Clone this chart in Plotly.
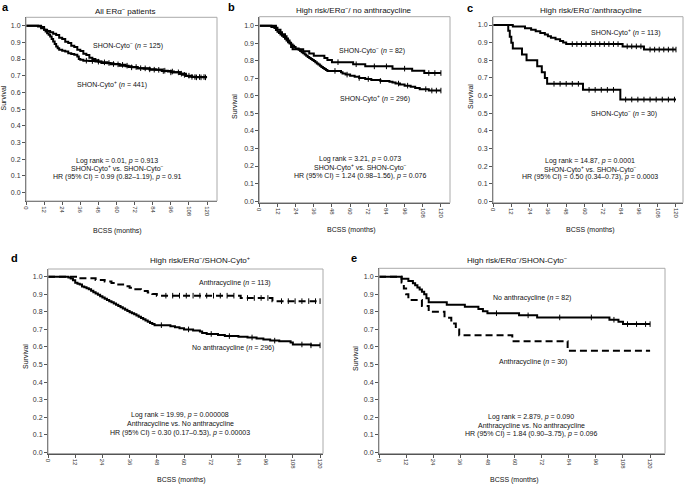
import plotly.graph_objects as go

W, H = 685, 487

# ---------------- data (time in months, survival) ----------------
x_ticks = [0, 12, 24, 36, 48, 60, 72, 84, 96, 108, 120]
y_ticks = [0.0, 0.1, 0.2, 0.3, 0.4, 0.5, 0.6, 0.7, 0.8, 0.9, 1.0]
y_ticktext = ["0.0", "0.1", "0.2", "0.3", "0.4", "0.5", "0.6", "0.7", "0.8", "0.9", "1.0"]

# panel a: all ERa- patients
a_pos = [(0, 1.0), (8, 0.995), (10, 0.985), (12, 0.975), (13, 0.965), (14, 0.955), (15, 0.945),
         (16, 0.935), (17, 0.92), (18, 0.905), (19, 0.89), (20, 0.875), (21, 0.865), (22, 0.855),
         (24, 0.85), (26, 0.845), (28, 0.835), (30, 0.83), (32, 0.825), (34, 0.815), (35, 0.80),
         (36, 0.795), (38, 0.79), (42, 0.788), (46, 0.785), (50, 0.78), (54, 0.775), (58, 0.77),
         (62, 0.765), (66, 0.757), (70, 0.75), (74, 0.745), (78, 0.742), (82, 0.738), (86, 0.735),
         (90, 0.73), (94, 0.725), (98, 0.72), (102, 0.712), (104, 0.705), (106, 0.698), (108, 0.693),
         (112, 0.69), (120, 0.69)]
a_neg = [(0, 1.0), (10, 0.992), (12, 0.976), (14, 0.968), (16, 0.96), (18, 0.952), (20, 0.944),
         (22, 0.928), (24, 0.92), (26, 0.904), (28, 0.896), (30, 0.88), (32, 0.872), (34, 0.856),
         (36, 0.848), (38, 0.832), (40, 0.824), (42, 0.808), (44, 0.80), (46, 0.792), (48, 0.784),
         (50, 0.776), (56, 0.768), (62, 0.76), (68, 0.752), (74, 0.744), (82, 0.736), (90, 0.728),
         (96, 0.72), (102, 0.712), (106, 0.70), (110, 0.692), (120, 0.692)]
a_pos_cens = [40, 44, 52, 58, 64, 70, 76, 82, 88, 92, 97, 101, 105, 110, 113, 116, 119]
a_neg_cens = [48, 55, 61, 67, 73, 79, 85, 91, 96, 103, 108, 112, 115, 118]

# panel b: high risk / no anthracycline
b_pos = [(0, 1.0), (8, 0.993), (10, 0.986), (11, 0.975), (12, 0.965), (13, 0.958), (14, 0.95),
         (15, 0.942), (16, 0.935), (17, 0.925), (18, 0.915), (19, 0.905), (20, 0.898), (21, 0.892),
         (22, 0.885), (23, 0.878), (24, 0.87), (26, 0.863), (27, 0.856), (28, 0.849), (29, 0.842),
         (30, 0.835), (31, 0.828), (32, 0.822), (33, 0.816), (34, 0.81), (35, 0.804), (36, 0.798),
         (37, 0.791), (38, 0.785), (39, 0.778), (40, 0.772), (41, 0.765), (42, 0.759), (43, 0.753),
         (44, 0.747), (45, 0.742), (54, 0.735), (55, 0.728), (57, 0.721), (60, 0.715), (63, 0.709),
         (66, 0.702), (70, 0.696), (74, 0.69), (80, 0.685), (86, 0.68), (88, 0.676), (90, 0.67),
         (93, 0.664), (96, 0.658), (100, 0.652), (103, 0.645), (106, 0.638), (112, 0.63), (120, 0.63)]
b_neg = [(0, 1.0), (11, 0.988), (12, 0.976), (14, 0.963), (15, 0.951), (17, 0.939), (18, 0.927),
         (19, 0.915), (20, 0.902), (21, 0.878), (22, 0.866), (29, 0.854), (33, 0.841), (36, 0.829),
         (43, 0.816), (45, 0.804), (48, 0.792), (62, 0.78), (70, 0.768), (88, 0.755), (101, 0.743),
         (109, 0.73), (120, 0.73)]
b_pos_cens = [50, 58, 66, 72, 80, 92, 98, 110, 114, 117, 120]
b_neg_cens = [52, 64, 76, 84, 96, 112, 116, 120]

# panels c/d: anthracycline, SHON-Cyto+ (n=113); panels c/e: anthracycline, SHON-Cyto- (n=30)
anth_pos = [(0, 1.0), (13, 0.991), (21, 0.982), (25, 0.973), (28, 0.964), (31, 0.955), (34, 0.946),
            (36, 0.937), (38, 0.928), (41, 0.919), (44, 0.91), (46, 0.901), (48, 0.892),
            (85, 0.879), (99, 0.861), (120, 0.861)]
anth_neg = [(0, 1.0), (10, 0.967), (11, 0.933), (12, 0.90), (13, 0.867), (19, 0.833), (22, 0.80),
            (29, 0.767), (32, 0.733), (34, 0.70), (35.5, 0.667), (59, 0.633), (83.5, 0.578),
            (120, 0.578)]
anth_pos_cens = [52, 55, 58, 61, 64, 67, 70, 73, 76, 79, 82, 88, 91, 94, 97, 103, 106, 109, 112, 115, 118, 120]
anth_neg_cens = [40, 44, 48, 52, 56, 63, 67, 71, 75, 79, 87, 91, 95, 99, 103, 107, 111, 115, 119]

# panel d: no anthracycline, SHON-Cyto+ (n=296)
d_noanth = [(0, 1.0), (9, 0.995), (10, 0.99), (11, 0.98), (12, 0.965), (13, 0.96), (14, 0.955),
            (15, 0.945), (16, 0.94), (17, 0.935), (18, 0.928), (19, 0.92), (20, 0.912), (21, 0.905),
            (22, 0.897), (23, 0.889), (24, 0.882), (25, 0.875), (26, 0.868), (27, 0.861), (28, 0.854),
            (29, 0.847), (30, 0.84), (31, 0.833), (32, 0.826), (33, 0.819), (34, 0.812), (35, 0.805),
            (36, 0.798), (37, 0.792), (38, 0.786), (39, 0.779), (40, 0.772), (41, 0.765), (42, 0.758),
            (43, 0.751), (44, 0.744), (45, 0.737), (46, 0.73), (47, 0.724), (54, 0.718), (56, 0.712),
            (58, 0.706), (60, 0.70), (64, 0.694), (67, 0.688), (68, 0.68), (70, 0.674), (75, 0.668),
            (78, 0.662), (84, 0.658), (88, 0.654), (92, 0.648), (95, 0.642), (98, 0.636), (102, 0.632),
            (107, 0.626), (108, 0.614), (116, 0.609), (120, 0.609)]
d_noanth_cens = [50, 62, 72, 80, 90, 100, 112, 116, 120]

# panel e: no anthracycline, SHON-Cyto- (n=82)
e_noanth = [(0, 1.0), (10, 0.988), (13, 0.976), (15, 0.963), (16, 0.951), (17, 0.939), (18, 0.927),
            (19, 0.915), (20, 0.90), (21, 0.878), (22, 0.854), (30, 0.841), (38, 0.829), (44, 0.816),
            (46, 0.804), (48, 0.792), (62, 0.78), (70, 0.768), (102, 0.755), (106, 0.743),
            (108, 0.73), (120, 0.73)]
e_noanth_cens = [52, 66, 80, 94, 104, 110, 114, 118, 120]

# ---------------- helpers ----------------
FONT = "Liberation Sans, Arial, Helvetica, sans-serif"
TXT = "#111111"
TICKTXT = "#333333"
AX = "#555555"


def unzip(pairs):
    return [p[0] for p in pairs], [p[1] for p in pairs]


def surv_at(pairs, t):
    s = pairs[0][1]
    for tt, ss in pairs:
        if tt <= t:
            s = ss
    return s


fig = go.Figure()

# pixel layout of the five panels: (left, right, top, bottom, xmax, ymin, ymax)
panels = {
    "a": (26, 217, 17.3, 201, 126.6, -0.051, 1.05),
    "b": (259.3, 450, 16.7, 202.7, 126, -0.009, 1.051),
    "c": (493, 683, 16.7, 202.7, 124.6, -0.006, 1.047),
    "d": (48, 323, 269, 453.5, 121.3, -0.007, 1.044),
    "e": (379, 665, 268.3, 453.5, 126.6, -0.007, 1.048),
}
axis_ids = {"a": "", "b": "2", "c": "3", "d": "4", "e": "5"}

layout_axes = {}
shapes = []
for key, (l, r, t, b, xmax, ymin, ymax) in panels.items():
    i = axis_ids[key]
    layout_axes["xaxis" + i] = dict(
        domain=[l / W, r / W], range=[0, xmax], anchor="y" + i,
        tickvals=x_ticks, ticktext=[str(v) for v in x_ticks], tickangle=90,
        ticks="outside", ticklen=3, tickcolor=AX, tickwidth=1,
        showline=True, linecolor=AX, linewidth=1, showgrid=False, zeroline=False,
        tickfont=dict(size=6, color=TICKTXT, family=FONT), fixedrange=True,
    )
    layout_axes["yaxis" + i] = dict(
        domain=[1 - b / H, 1 - t / H], range=[ymin, ymax], anchor="x" + i,
        tickvals=y_ticks, ticktext=y_ticktext,
        ticks="outside", ticklen=3, tickcolor=AX, tickwidth=1,
        showline=True, linecolor=AX, linewidth=1, showgrid=False, zeroline=False,
        tickfont=dict(size=7, color=TICKTXT, family=FONT), fixedrange=True,
    )
    xr = "x" + i if i else "x"
    yr = "y" + i if i else "y"
    shapes.append(dict(type="rect", xref=xr + " domain", yref=yr + " domain",
                       x0=0, x1=1, y0=0, y1=1, line=dict(color="#aaaaaa", width=1)))


def add_curve(pairs, cens, key, dash="solid"):
    i = axis_ids[key]
    t, s = unzip(pairs)
    fig.add_trace(go.Scatter(
        x=t, y=s, mode="lines", xaxis="x" + i, yaxis="y" + i,
        line=dict(shape="hv", color="black", width=2, dash=dash),
        showlegend=False, hoverinfo="skip"))
    if cens:
        fig.add_trace(go.Scatter(
            x=cens, y=[surv_at(pairs, c) for c in cens], mode="markers",
            xaxis="x" + i, yaxis="y" + i,
            marker=dict(symbol="line-ns", size=4, line=dict(width=1, color="black")),
            showlegend=False, hoverinfo="skip"))


add_curve(a_pos, a_pos_cens, "a")
add_curve(a_neg, a_neg_cens, "a")
add_curve(b_pos, b_pos_cens, "b")
add_curve(b_neg, b_neg_cens, "b")
add_curve(anth_pos, anth_pos_cens, "c")
add_curve(anth_neg, anth_neg_cens, "c")
add_curve(d_noanth, d_noanth_cens, "d")
add_curve(anth_pos, anth_pos_cens, "d", dash="7px,4px")
add_curve(e_noanth, e_noanth_cens, "e")
add_curve(anth_neg, [], "e", dash="7px,4px")

NEG = "<sup>−</sup>"
POS = "<sup>+</sup>"
ERA = "ERα" + NEG

annots = []


def txt(x, y, text, size=7, angle=0, xanchor="center", color=TXT):
    annots.append(dict(
        x=x / W, y=1 - y / H, xref="paper", yref="paper", text=text, showarrow=False,
        xanchor=xanchor, yanchor="middle", textangle=angle,
        font=dict(size=size, color=color, family=FONT)))


# panel letters
for (lx, ly, lt) in [(0, 7, "a"), (231, 7, "b"), (470, 7.5, "c"), (14, 257.5, "d"), (354, 257.5, "e")]:
    txt(lx, ly, "<b>" + lt + "</b>", size=11, color="#000000",
        xanchor="left" if lt == "a" else "center")

# titles
txt(125, 10.7, "All " + ERA + " patients", size=8)
txt(354, 10.5, "High risk/" + ERA + "/ no anthracycline", size=8)
txt(590.7, 10, "High risk/" + ERA + "/anthracycline", size=8)
txt(200, 260, "High risk/" + ERA + "/SHON-Cyto" + POS, size=8)
txt(517, 260, "High risk/" + ERA + "/SHON-Cyto" + NEG, size=8)

# axis titles
for (bx, by) in [(117.5, 231), (351.7, 230), (590.7, 230), (181.7, 480), (514, 480)]:
    txt(bx, by, "BCSS (months)")
for (sx, sy) in [(3.5, 98), (235, 107), (470, 97), (25, 356), (355, 359)]:
    txt(sx, sy, "Survival", angle=-90)

# curve labels
txt(128, 45.7, "SHON-Cyto" + NEG + " (<i>n</i> = 125)")
txt(112, 85, "SHON-Cyto" + POS + " (<i>n</i> = 441)")
txt(371.7, 50.7, "SHON-Cyto" + NEG + " (<i>n</i> = 82)")
txt(375, 98.3, "SHON-Cyto" + POS + " (<i>n</i> = 296)")
txt(625, 32.3, "SHON-Cyto" + POS + " (<i>n</i> = 113)")
txt(624, 113.3, "SHON-Cyto" + NEG + " (<i>n</i> = 30)")
txt(235, 283.3, "Anthracycline (<i>n</i> = 113)")
txt(233.3, 347.7, "No anthracycline (<i>n</i> = 296)")
txt(531.7, 297.7, "No anthracycline (<i>n</i> = 82)")
txt(533, 361.7, "Anthracycline (<i>n</i> = 30)")

# statistics
stats = [
    (117, [161, 168.3, 176.7], ["Log rank = 0.01, <i>p</i> = 0.913",
                                "SHON-Cyto" + POS + " vs. SHON-Cyto" + NEG,
                                "HR (95% CI) = 0.99 (0.82–1.19), <i>p</i> = 0.91"]),
    (360, [159.3, 167.3, 175.7], ["Log rank = 3.21, <i>p</i> = 0.073",
                                  "SHON-Cyto" + POS + " vs. SHON-Cyto" + NEG,
                                  "HR (95% CI) = 1.24 (0.98–1.56), <i>p</i> = 0.076"]),
    (590, [161, 169.3, 177.3], ["Log rank = 14.87, <i>p</i> = 0.0001",
                                "SHON-Cyto" + POS + " vs. SHON-Cyto" + NEG,
                                "HR (95% CI) = 0.50 (0.34–0.73), <i>p</i> = 0.0003"]),
    (180.5, [415, 424, 432.7], ["Log rank = 19.99, <i>p</i> = 0.000008",
                                "Anthracycline vs. No anthracycline",
                                "HR (95% CI) = 0.30 (0.17–0.53), <i>p</i> = 0.00003"]),
    (531, [416.7, 425.7, 434.3], ["Log rank = 2.879, <i>p</i> = 0.090",
                                  "Anthracycline vs. No anthracycline",
                                  "HR (95% CI) = 1.84 (0.90–3.75), <i>p</i> = 0.096"]),
]
for cx, ys, lines in stats:
    for yy, line in zip(ys, lines):
        txt(cx, yy, line)

fig.update_layout(
    template="none",
    width=W, height=H, margin=dict(l=0, r=0, t=0, b=0, pad=0),
    paper_bgcolor="white", plot_bgcolor="white",
    showlegend=False, shapes=shapes, annotations=annots,
    font=dict(family=FONT, color=TXT, size=7),
    **layout_axes,
)

fig.write_html(
    "out.html",
    config={"displayModeBar": False, "responsive": False},
    post_script="document.body.style.margin='0px';document.body.style.overflow='hidden';",
)
